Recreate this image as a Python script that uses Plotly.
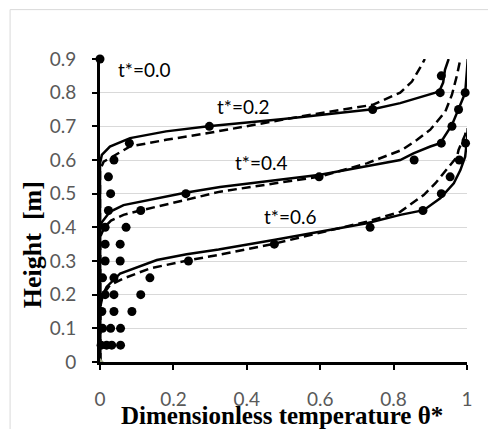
import plotly.graph_objects as go

# ---------------- data ----------------
h_exp_02 = [0.05, 0.10, 0.15, 0.20, 0.25, 0.30, 0.35, 0.40, 0.45, 0.50, 0.55, 0.60, 0.65, 0.70, 0.75, 0.80, 0.85]
v_exp_02 = [0.018, 0.007, 0.005, 0.014, 0.007, 0.014, 0.014, 0.014, 0.023, 0.029, 0.023, 0.038, 0.080, 0.298, 0.743, 0.927, 0.930]

h_exp_04 = [0.05, 0.10, 0.15, 0.20, 0.25, 0.30, 0.35, 0.40, 0.45, 0.50, 0.55, 0.60, 0.65, 0.70, 0.75, 0.80]
v_exp_04 = [0.032, 0.029, 0.038, 0.038, 0.038, 0.055, 0.055, 0.071, 0.111, 0.234, 0.597, 0.856, 0.930, 0.959, 0.977, 0.995]

h_exp_06 = [0.05, 0.10, 0.15, 0.20, 0.25, 0.30, 0.35, 0.40, 0.45, 0.50, 0.55, 0.60, 0.65]
v_exp_06 = [0.056, 0.056, 0.087, 0.111, 0.136, 0.241, 0.475, 0.736, 0.880, 0.930, 0.954, 0.979, 0.996]

h_exp_00 = [0.90, 0.05]
v_exp_00 = [0.0, 0.003]

# model curves (solid) and second model (dashed)
v_s02 = [0, 0, 0.005, 0.027, 0.082, 0.18, 0.295, 0.5, 0.743, 0.818, 0.914, 0.927, 0.935, 0.94, 0.95]
h_s02 = [0, 0.59, 0.615, 0.64, 0.665, 0.685, 0.70, 0.722, 0.751, 0.769, 0.80, 0.81, 0.83, 0.868, 0.90]
v_d02 = [0, 0, 0.01, 0.041, 0.082, 0.18, 0.295, 0.545, 0.743, 0.818, 0.85, 0.877, 0.885]
h_d02 = [0, 0.57, 0.595, 0.615, 0.64, 0.66, 0.68, 0.729, 0.764, 0.80, 0.833, 0.883, 0.90]

v_s04 = [0, 0, 0.005, 0.027, 0.064, 0.232, 0.327, 0.6, 0.818, 0.854, 0.9, 0.927, 0.959, 0.977, 0.995, 1.0, 1.002]
h_s04 = [0, 0.39, 0.415, 0.446, 0.466, 0.503, 0.52, 0.556, 0.60, 0.62, 0.64, 0.65, 0.704, 0.749, 0.799, 0.868, 0.90]
v_d04 = [0, 0, 0.012, 0.03, 0.064, 0.114, 0.232, 0.327, 0.6, 0.727, 0.823, 0.864, 0.9, 0.941, 0.959, 0.973, 0.982]
h_d04 = [0, 0.37, 0.40, 0.42, 0.437, 0.451, 0.481, 0.506, 0.551, 0.59, 0.63, 0.66, 0.69, 0.744, 0.794, 0.853, 0.90]

v_s06 = [0, 0, 0.005, 0.018, 0.055, 0.155, 0.236, 0.323, 0.477, 0.727, 0.818, 0.882, 0.927, 0.964, 0.982, 0.995, 1.0, 1.002]
h_s06 = [0, 0.17, 0.193, 0.223, 0.263, 0.303, 0.32, 0.334, 0.363, 0.412, 0.437, 0.451, 0.486, 0.531, 0.57, 0.61, 0.66, 0.695]
v_d06 = [0, 0, 0.008, 0.027, 0.064, 0.136, 0.245, 0.323, 0.477, 0.727, 0.818, 0.882, 0.914, 0.95, 0.973, 0.977, 0.995, 0.998]
h_d06 = [0, 0.16, 0.20, 0.228, 0.248, 0.278, 0.303, 0.318, 0.352, 0.417, 0.446, 0.496, 0.531, 0.58, 0.61, 0.63, 0.675, 0.695]

x_tickvals = [0, 0.2, 0.4, 0.6, 0.8, 1.0]
x_ticktext = ["0", "0.2", "0.4", "0.6", "0.8", "1"]
y_tickvals = [0, 0.1, 0.2, 0.3, 0.4, 0.5, 0.6, 0.7, 0.8, 0.9]
y_ticktext = ["0", "0.1", "0.2", "0.3", "0.4", "0.5", "0.6", "0.7", "0.8", "0.9"]

labels = ["t*=0.0", "t*=0.2", "t*=0.4", "t*=0.6"]
label_x = [0.12, 0.389, 0.44, 0.517]
label_y = [0.868, 0.758, 0.594, 0.431]

# ---------------- figure ----------------
fig = go.Figure()
LW = 2.5
for vx, hy in [(v_s02, h_s02), (v_s04, h_s04), (v_s06, h_s06)]:
    fig.add_trace(go.Scatter(x=vx, y=hy, mode="lines",
                             line=dict(color="black", width=LW), showlegend=False))
for vx, hy in [(v_d02, h_d02), (v_d04, h_d04), (v_d06, h_d06)]:
    fig.add_trace(go.Scatter(x=vx, y=hy, mode="lines",
                             line=dict(color="black", width=LW, dash="9px,5px"), showlegend=False))
for vx, hy in [(v_exp_00, h_exp_00), (v_exp_02, h_exp_02), (v_exp_04, h_exp_04), (v_exp_06, h_exp_06)]:
    fig.add_trace(go.Scatter(x=vx, y=hy, mode="markers", cliponaxis=False,
                             marker=dict(color="black", size=9), showlegend=False))
fig.add_trace(go.Scatter(x=[0], y=[0], mode="markers", cliponaxis=False,
                         marker=dict(color="#a3ab8a", size=6, symbol="diamond"), showlegend=False))

for t, x, y in zip(labels, label_x, label_y):
    fig.add_annotation(x=x, y=y, xref="x", yref="y", text=t, showarrow=False,
                       xanchor="center", yanchor="middle",
                       font=dict(family="Lato", size=19, color="black"))

fig.add_annotation(x=0.496, y=-0.178, xref="paper", yref="paper",
                   text="<b>Dimensionless temperature θ*</b>", showarrow=False,
                   xanchor="center", yanchor="middle",
                   font=dict(family="Liberation Serif", size=25, color="black"))
fig.add_annotation(x=-0.185, y=0.386, xref="paper", yref="paper",
                   text="<b>Height  [m]</b>", showarrow=False, textangle=-90,
                   xanchor="center", yanchor="middle",
                   font=dict(family="Liberation Serif", size=26, color="black"))

fig.add_shape(type="rect", xref="paper", yref="paper", x0=-0.245, x1=1.2, y0=-0.3, y1=1.163,
              line=dict(color="#d9d9d9", width=1), layer="below")

fig.update_layout(
    width=488, height=421,
    margin=dict(l=92, r=29, t=51.3, b=67.3),
    paper_bgcolor="white", plot_bgcolor="white",
    xaxis=dict(range=[0, 1], tickvals=x_tickvals, ticktext=x_ticktext,
               showgrid=False, zeroline=False, showline=True, linecolor="black", linewidth=3,
               ticks="outside", ticklen=5, tickwidth=2, tickcolor="black",
               ticklabelstandoff=13,
               tickfont=dict(family="Lato", size=19, color="#595959")),
    yaxis=dict(range=[0, 0.9], tickvals=y_tickvals, ticktext=y_ticktext,
               showgrid=True, gridcolor="#d9d9d9", gridwidth=1, zeroline=False,
               showline=True, linecolor="black", linewidth=3,
               ticks="outside", ticklen=5, tickwidth=2, tickcolor="black",
               ticklabelstandoff=12,
               tickfont=dict(family="Lato", size=19, color="#595959")),
)

fig.write_html("out.html")
